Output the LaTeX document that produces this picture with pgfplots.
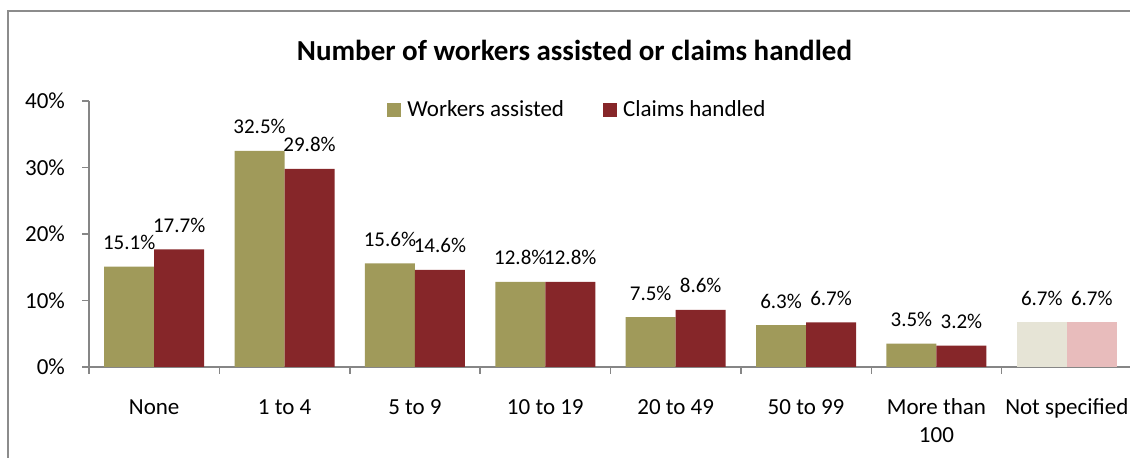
\documentclass[border=0pt]{standalone}
\usepackage{pgfplots}
\pgfplotsset{compat=1.18}
\usepackage{fontspec}
\setmainfont{Carlito}
\definecolor{olive}{RGB}{160,154,90}
\definecolor{wine}{RGB}{134,38,41}
\definecolor{lolive}{RGB}{230,228,214}
\definecolor{lwine}{RGB}{232,188,188}
\definecolor{axgray}{RGB}{134,134,134}
\definecolor{frgray}{RGB}{140,140,140}
\begin{document}
\begin{tikzpicture}
\path[use as bounding box] (0,0) rectangle (565pt,229pt);
\begin{scope}
\clip (0,0) rectangle (565pt,229pt);
\draw[frgray, line width=0.8pt] (4pt,-10pt) -- (4pt,223.5pt) -- (600pt,223.5pt);
\begin{axis}[
  at={(44.5pt,45.5pt)}, anchor=south west,
  scale only axis, width=521.5pt, height=133pt,
  xmin=-0.5, xmax=7.5, ymin=0, ymax=40,
  ybar, bar width=25pt,
  axis x line*=bottom, axis y line*=left,
  axis line style={axgray, line width=0.75pt},
  tick style={axgray, line width=0.75pt},
  tick align=outside, major tick length=3.5pt,
  ytick={0,10,20,30,40},
  yticklabel={\pgfmathprintnumber{\tick}\%},
  yticklabel style={font=\fontsize{11.5}{14}\selectfont, xshift=-5pt},
  /pgf/number format/assume math mode=true,
  xtick={-0.5,0.5,...,7.5},
  xticklabels={,,,,,,,,,},
  extra x ticks={0,1,2,3,4,5,6,7},
  extra x tick labels={None,1 to 4,5 to 9,10 to 19,20 to 49,50 to 99,{\begin{tabular}[t]{@{}c@{}}More than\\100\end{tabular}},Not specified},
  extra x tick style={major tick length=0pt, tick style={draw=none},
     xticklabel style={font=\fontsize{11.5}{14}\selectfont, anchor=base, yshift=-23.8pt}},
  nodes near coords={\pgfmathprintnumber[fixed,fixed zerofill,precision=1]{\pgfplotspointmeta}\%},
  every node near coord/.append style={font=\fontsize{10.5}{12}\selectfont, anchor=base, yshift=8.5pt, black},
  legend columns=2,
  legend image code/.code={\fill[#1] (0pt,-3.5pt) rectangle (7pt,3.5pt);},
  legend style={at={(0.2857,0.966)}, anchor=west, draw=none, fill=none, inner sep=0pt,
     font=\fontsize{11.5}{14}\selectfont, nodes={inner sep=0pt},
     /tikz/every odd column/.append style={column sep=3pt},
     /tikz/every even column/.append style={column sep=19.5pt}},
]
\addplot[fill=olive, draw=none, bar shift=-12.5pt] coordinates {(0,15.1) (1,32.5) (2,15.6) (3,12.8) (4,7.5) (5,6.3) (6,3.5)};
\addlegendentry{Workers assisted}
\addplot[fill=wine, draw=none, bar shift=12.5pt] coordinates {(0,17.7) (1,29.8) (2,14.6) (3,12.8) (4,8.6) (5,6.7) (6,3.2)};
\addlegendentry{Claims handled}
\addplot[fill=lolive, draw=none, bar shift=-12.5pt, forget plot] coordinates {(7,6.7)};
\addplot[fill=lwine, draw=none, bar shift=12.5pt, forget plot] coordinates {(7,6.7)};
\end{axis}
\node[font=\fontsize{14.5}{17}\selectfont\bfseries] at (287.25pt,204pt) {Number of workers assisted or claims handled};
\end{scope}
\end{tikzpicture}
\end{document}
